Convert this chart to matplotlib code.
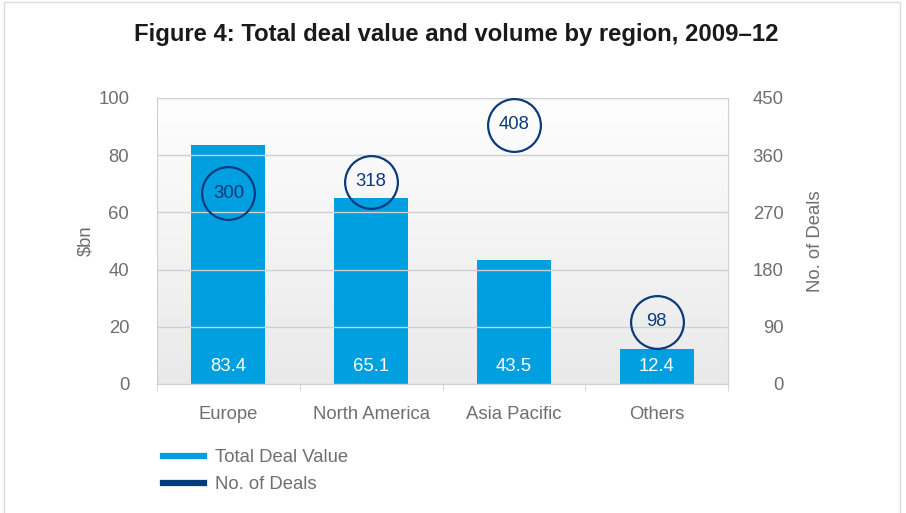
import matplotlib
matplotlib.use("Agg")
import matplotlib.pyplot as plt
import numpy as np
from matplotlib.lines import Line2D
from matplotlib.patches import Rectangle

plt.rcParams['font.family'] = ['Liberation Sans', 'DejaVu Sans']

regions = ["Europe", "North America", "Asia Pacific", "Others"]
deal_value = [83.4, 65.1, 43.5, 12.4]   # $bn
deal_count = [300, 318, 408, 98]

bar_color = '#009fdf'
navy = '#0b3b7c'
grey_txt = '#6d6e71'
grid_c = '#cfd0d2'
fs = 13.3

fig = plt.figure(figsize=(9.06, 5.13), dpi=100)
fig.patches.append(Rectangle((4 / 906, -0.01), 896 / 906, 1 - 2 / 513 + 0.01,
                             transform=fig.transFigure, fill=False,
                             edgecolor='#dcdcdc', lw=1))

ax = fig.add_axes([157 / 906, 1 - 384 / 513, 571 / 906, 286 / 513])
ax.set_facecolor('none')

# gradient background
grad = np.linspace(0, 1, 256).reshape(-1, 1)
top = np.array([0.995, 0.995, 0.995])
bot = np.array([0.915, 0.915, 0.92])
img = top + (bot - top) * grad[..., None]
img = img.reshape(256, 1, 3)
ax.imshow(img, extent=[-0.5, 3.5, 0, 100], aspect='auto', zorder=0, origin='upper')

x = np.arange(len(regions))
ax.bar(x, deal_value, width=0.52, color=bar_color, zorder=2)
for xi, v in zip(x, deal_value):
    ax.text(xi, 6.0, f"{v}", ha='center', va='center', color='white', fontsize=fs, zorder=3)

ax.set_xlim(-0.5, 3.5)
ax.set_ylim(0, 100)
ax.set_yticks([0, 20, 40, 60, 80, 100])
ax.yaxis.grid(True, color=grid_c, lw=1, zorder=1)
ax.set_axisbelow(False)
ax.tick_params(axis='y', length=0, pad=20, labelcolor=grey_txt, labelsize=fs)
ax.set_xticks(x)
ax.set_xticklabels(regions)
ax.set_xticks(np.arange(-0.5, 4, 1), minor=True)
ax.tick_params(axis='x', which='major', length=0, pad=16, labelcolor=grey_txt, labelsize=fs)
ax.tick_params(axis='x', which='minor', length=5, color=grid_c)
for s in ax.spines.values():
    s.set_color(grid_c)
ax.set_ylabel("$bn", color=grey_txt, fontsize=fs, labelpad=3)

ax2 = ax.twinx()
ax2.set_ylim(0, 450)
ax2.set_yticks([0, 90, 180, 270, 360, 450])
ax2.tick_params(axis='y', length=0, pad=40, labelcolor=grey_txt, labelsize=fs)
for lab in ax2.get_yticklabels():
    lab.set_horizontalalignment('right')
for s in ax2.spines.values():
    s.set_visible(False)
ax2.plot(x, deal_count, linestyle='none', marker='o', markersize=38,
         markerfacecolor='none', markeredgecolor=navy, markeredgewidth=1.6, zorder=4)
for xi, n in zip(x, deal_count):
    ax2.text(xi, n, f"{n}", ha='center', va='center', color=navy, fontsize=fs, zorder=5)
ax2.set_ylabel("No. of Deals", color=grey_txt, fontsize=fs, labelpad=17)

fig.text(456 / 906, 1 - 35 / 513, "Figure 4: Total deal value and volume by region, 2009\u201312",
         ha='center', va='center', fontsize=17.2, fontweight='bold', color='#1a1a1a')

handles = [Line2D([], [], color='#00a0e0', lw=4.5),
           Line2D([], [], color='#003c7d', lw=4.5)]
fig.legend(handles, ["Total Deal Value", "No. of Deals"], loc='upper left',
           bbox_to_anchor=(163 / 906, 1 - 449 / 513), frameon=False, fontsize=fs,
           handlelength=2.2, handletextpad=0.6, labelspacing=0.55,
           borderpad=0, borderaxespad=0, labelcolor=grey_txt)

fig.savefig("out.png", dpi=100)
